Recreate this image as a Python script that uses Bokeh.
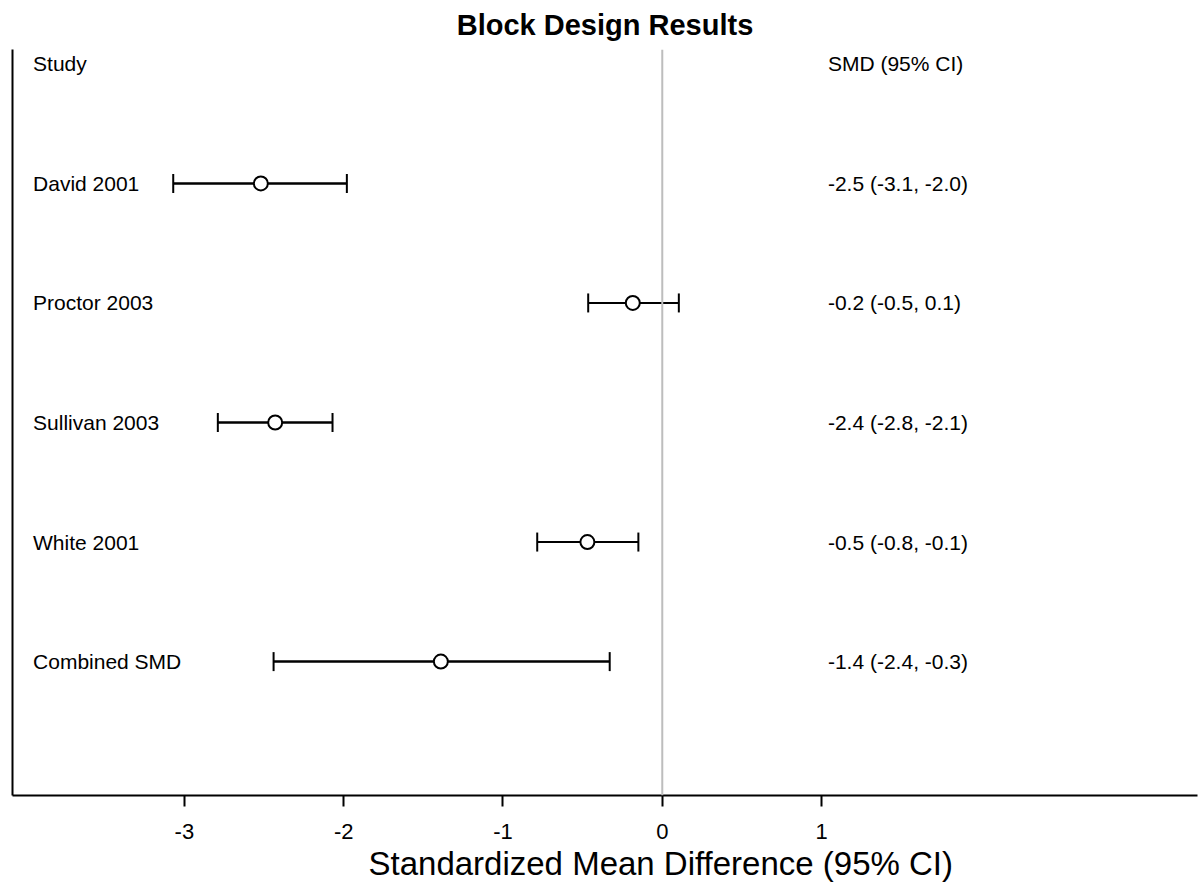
from bokeh.plotting import figure
from bokeh.models import (Range1d, LinearAxis, FixedTicker, Span, Whisker, TeeHead,
                          ColumnDataSource, Title)
from bokeh.core.properties import value
from bokeh.embed import file_html
from bokeh.resources import INLINE

# ---- data ----
studies = ["David 2001", "Proctor 2003", "Sullivan 2003", "White 2001", "Combined SMD"]
smd = [-2.52, -0.185, -2.43, -0.47, -1.39]
ci_low = [-3.07, -0.465, -2.79, -0.785, -2.44]
ci_high = [-1.98, 0.104, -2.07, -0.15, -0.33]
ci_labels = ["-2.5 (-3.1, -2.0)", "-0.2 (-0.5, 0.1)", "-2.4 (-2.8, -2.1)",
             "-0.5 (-0.8, -0.1)", "-1.4 (-2.4, -0.3)"]
rows = [5, 4, 3, 2, 1]
header_row = 6
header_labels = ["Study", "SMD (95% CI)"]
x_ticks = [-3, -2, -1, 0, 1]
x_tick_labels = ["-3", "-2", "-1", "0", "1"]
label_x_left = -3.95
label_x_right = 1.04
x_title = "Standardized Mean Difference (95% CI)"

FONT = "Liberation Sans"

p = figure(width=1200, height=886, output_backend="svg", toolbar_location=None,
           x_range=Range1d(-4.079, 3.360), y_range=Range1d(-0.12, 6.12),
           x_axis_location=None, y_axis_location=None,
           min_border_left=12, min_border_right=3, min_border_top=49, min_border_bottom=91)
p.outline_line_color = None
p.xgrid.visible = False
p.ygrid.visible = False
p.background_fill_color = "white"
p.border_fill_color = "white"

p.title = Title(text="Block Design Results", align="center", vertical_align="top",
                text_font=FONT, text_font_size="29px", text_font_style="bold",
                text_color="black", standoff=14)

xaxis = LinearAxis(ticker=FixedTicker(ticks=x_ticks))
xaxis.major_label_overrides = {t: s for t, s in zip(x_ticks, x_tick_labels)}
xaxis.axis_line_width = 2
xaxis.axis_line_color = "black"
xaxis.major_tick_line_width = 2
xaxis.major_tick_line_color = "black"
xaxis.major_tick_in = 0
xaxis.major_tick_out = 11
xaxis.minor_tick_line_color = None
xaxis.major_label_standoff = 17
xaxis.major_label_text_font = FONT
xaxis.major_label_text_font_size = "22px"
xaxis.major_label_text_color = "black"
p.add_layout(xaxis, "below")

# x-axis title, centred on the zero line as in the reference
p.add_layout(Title(text=x_title, align="left", offset=356,
                   vertical_align="top", text_font=FONT, text_font_size="33px",
                   text_font_style="normal", text_color="black", standoff=6), "below")

yaxis = LinearAxis(ticker=FixedTicker(ticks=[]))
yaxis.axis_line_width = 2
yaxis.axis_line_color = "black"
yaxis.major_tick_line_color = None
yaxis.minor_tick_line_color = None
yaxis.major_tick_out = 0
yaxis.major_tick_in = 0
yaxis.major_label_standoff = 0
yaxis.axis_label_standoff = 0
yaxis.major_label_text_font_size = "0px"
p.add_layout(yaxis, "left")

p.add_layout(Span(location=0, dimension="height", line_color="#bdbdbd", line_width=2))

src = ColumnDataSource(dict(study=studies, smd=smd, lo=ci_low, hi=ci_high,
                            lab=ci_labels, y=rows,
                            xl=[label_x_left] * len(rows), xr=[label_x_right] * len(rows)))

p.segment(x0="lo", x1="hi", y0="y", y1="y", source=src, line_color="black", line_width=2)
w = Whisker(source=src, base="y", lower="lo", upper="hi", dimension="width",
            line_color="black", line_width=2,
            lower_head=TeeHead(size=19, line_width=2, line_color="black"),
            upper_head=TeeHead(size=19, line_width=2, line_color="black"))
p.add_layout(w)
p.scatter(x="smd", y="y", source=src, marker="circle", size=14, fill_color="white",
          line_color="black", line_width=2)

p.text(x="xl", y="y", text="study", source=src, text_font=value(FONT),
       text_font_size="21px", text_baseline="middle", text_align="left", text_color="black")
p.text(x="xr", y="y", text="lab", source=src, text_font=value(FONT),
       text_font_size="21px", text_baseline="middle", text_align="left", text_color="black")
p.text(x=[label_x_left, label_x_right], y=[header_row, header_row],
       text=header_labels, text_font=value(FONT),
       text_font_size="21px", text_baseline="middle", text_align="left", text_color="black")

open("out.html", "w").write(file_html(p, INLINE))
